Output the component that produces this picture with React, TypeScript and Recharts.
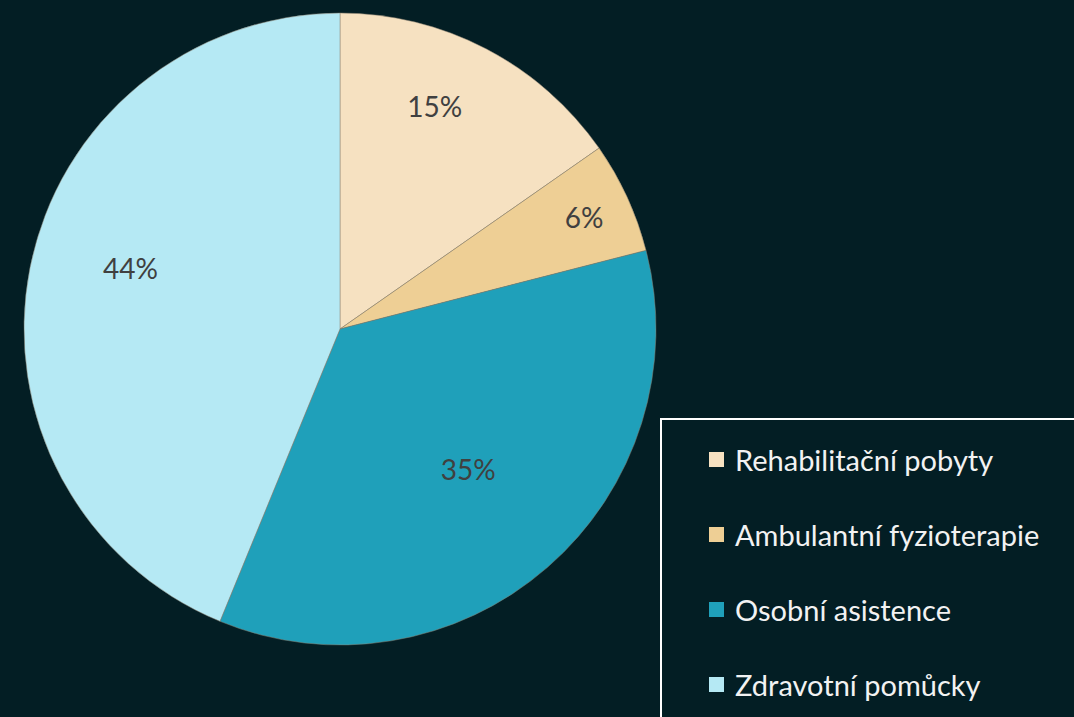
import React from "react";
import { PieChart, Pie, Cell, Legend } from "recharts";

const categories = ["Rehabilitační pobyty", "Ambulantní fyzioterapie", "Osobní asistence", "Zdravotní pomůcky"];
const shares = [15.3, 5.7, 35.2, 43.8];
const colors = ["#F6E1C1", "#EECF95", "#1FA0BA", "#B5E9F4"];
// data label placement: fraction of radius and small angle nudge (deg)
const labelRadius = [0.766, 0.85, 0.6, 0.69];
const labelShift = [4.5, 0, 1.5, -5];

const data = categories.map((name, i) => ({ name, value: shares[i] }));

const FONT = "Lato, 'Liberation Sans', sans-serif";
const RAD = Math.PI / 180;

const renderLabel = (p: any) => {
  const r = p.outerRadius * labelRadius[p.index];
  const a = (p.midAngle + labelShift[p.index]) * RAD;
  const x = p.cx + r * Math.cos(-a);
  const y = p.cy + r * Math.sin(-a);
  return (
    <text x={x} y={y} fill="#404040" fontSize={28} fontFamily={FONT} textAnchor="middle" dominantBaseline="central">
      {`${Math.round(p.percent * 100)}%`}
    </text>
  );
};

const LegendBox = () => (
  <div style={{ border: "2px solid #ffffff", width: 440, height: 320, boxSizing: "border-box", paddingTop: 2, paddingLeft: 47 }}>
    {categories.map((c, i) => (
      <div key={c} style={{ display: "flex", alignItems: "center", height: 75 }}>
        <span style={{ width: 15, height: 15, background: colors[i], marginRight: 11, display: "inline-block" }} />
        <span style={{ color: "#F2F2F2", fontSize: 29, fontFamily: FONT }}>{c}</span>
      </div>
    ))}
  </div>
);

export default function App() {
  return (
    <div style={{ position: "absolute", left: 0, top: 0, width: 1074, height: 717, background: "#031E24", overflow: "hidden" }}>
      <PieChart width={1074} height={717} margin={{ top: 0, right: 0, bottom: 0, left: 0 }}>
        <Pie
          data={data}
          dataKey="value"
          nameKey="name"
          cx={340}
          cy={329}
          outerRadius={316}
          startAngle={90}
          endAngle={-270}
          stroke="#8a8070"
          strokeWidth={0.5}
          label={renderLabel}
          labelLine={false}
          isAnimationActive={false}
        >
          {data.map((d, i) => (
            <Cell key={d.name} fill={colors[i]} />
          ))}
        </Pie>
        <Legend content={<LegendBox />} wrapperStyle={{ position: "absolute", left: 660, top: 418, width: 440 }} />
      </PieChart>
    </div>
  );
}
